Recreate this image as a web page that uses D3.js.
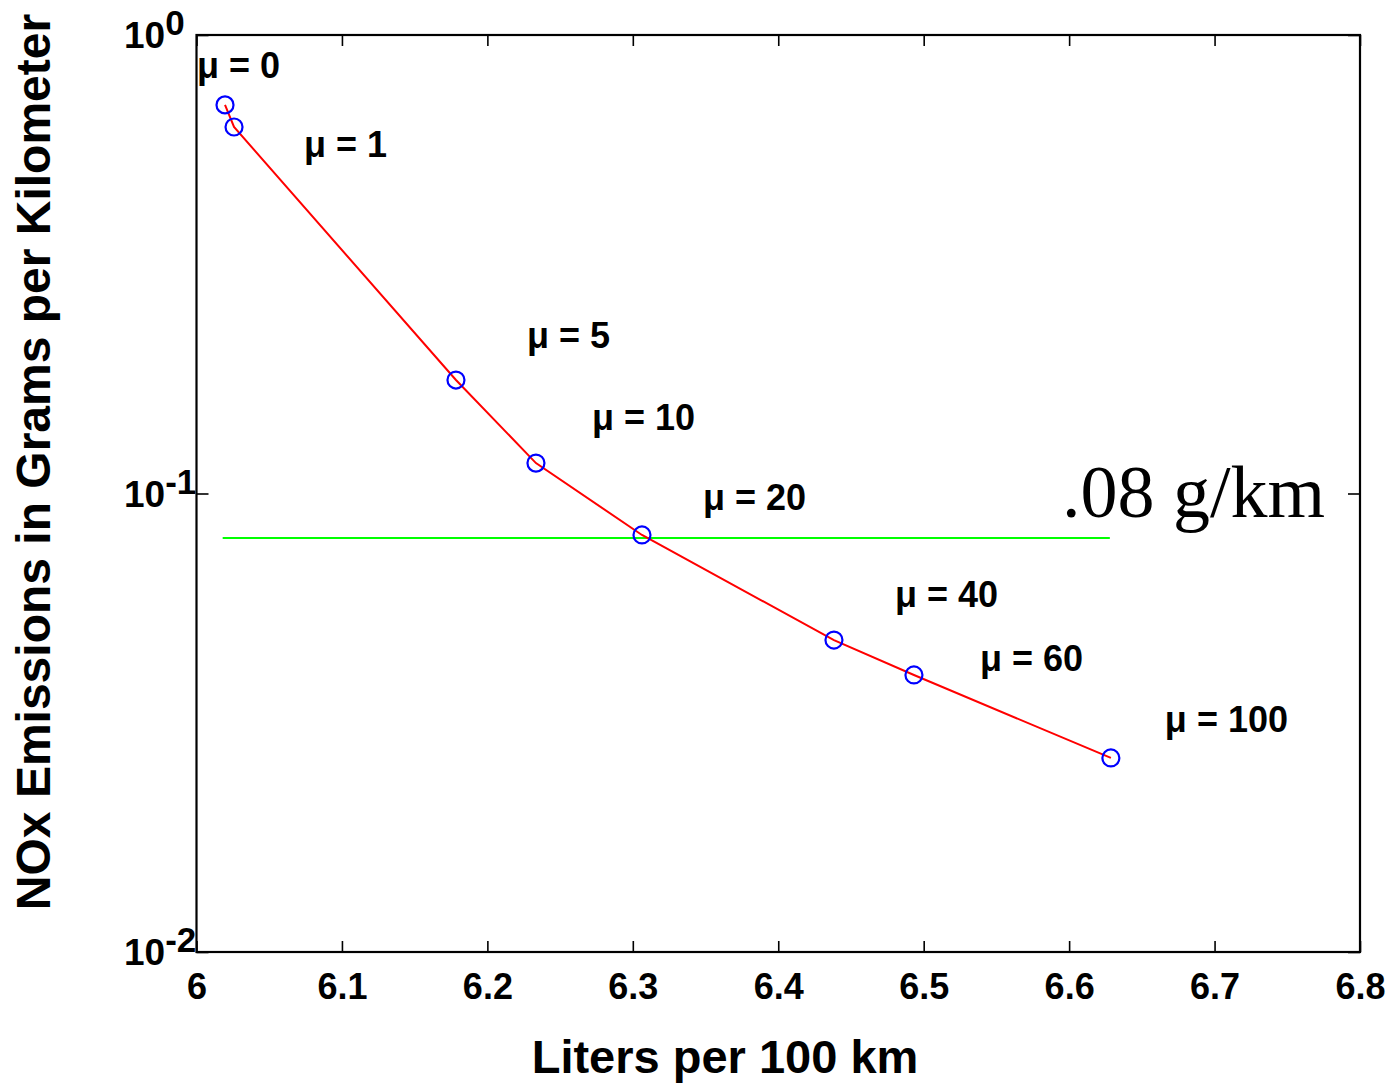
<!DOCTYPE html>
<html>
<head>
<meta charset="utf-8">
<script src="https://cdn.jsdelivr.net/npm/d3@7"></script>
<style>
  html, body { margin: 0; padding: 0; background: #fff; }
  svg { display: block; }
</style>
</head>
<body>
<svg id="chart" width="1391" height="1085"></svg>
<script>
// ---- data ----
const muValues = [0, 1, 5, 10, 20, 40, 60, 100];
const litersPer100km = [6.0196, 6.0258, 6.1784, 6.2334, 6.3063, 6.4383, 6.4933, 6.6287];
const noxGramsPerKm = [0.704, 0.630, 0.1768, 0.1165, 0.0812, 0.0479, 0.0402, 0.0265];
const xTicks = [6, 6.1, 6.2, 6.3, 6.4, 6.5, 6.6, 6.7, 6.8];
const xTickLabels = ["6", "6.1", "6.2", "6.3", "6.4", "6.5", "6.6", "6.7", "6.8"];
const yTicks = [1, 0.1, 0.01];
const yTickExponents = ["0", "-1", "-2"];
const standardValue = 0.08;
const standardRange = [6.018, 6.628];
const standardLabel = ".08 g/km";
const xTitle = "Liters per 100 km";
const yTitle = "NOx Emissions in Grams per Kilometer";

// ---- layout (not data) ----
const plot = { left: 196.5, right: 1360, top: 35, bottom: 952 };
const labelOffsets = [[-28, -27], [70, 30], [71, -32], [56, -33], [61, -25], [61, -33], [66, -4], [54, -26]];
const sans = "'Liberation Sans', Arial, Helvetica, sans-serif";
const serif = "'Liberation Serif', 'Times New Roman', serif";

const svg = d3.select("#chart");

const x = d3.scaleLinear().domain([6, 6.8]).range([plot.left, plot.right]);
const y = d3.scaleLog().domain([0.01, 1]).range([plot.bottom, plot.top]);

// axes (ticks inward)
const gx = svg.append("g").attr("transform", `translate(0,${plot.bottom})`)
  .call(d3.axisBottom(x).tickValues(xTicks).tickSize(-11).tickSizeOuter(0).tickPadding(21)
    .tickFormat((d, i) => xTickLabels[i]));
gx.select(".domain").remove();
gx.selectAll("line").attr("stroke", "#000").attr("stroke-width", 1.6);
gx.selectAll("text").attr("font-family", sans).attr("font-weight", "bold")
  .attr("font-size", 36).attr("fill", "#000");

const gxt = svg.append("g").attr("transform", `translate(0,${plot.top})`)
  .call(d3.axisTop(x).tickValues(xTicks).tickSize(-11).tickSizeOuter(0).tickFormat(""));
gxt.select(".domain").remove();
gxt.selectAll("line").attr("stroke", "#000").attr("stroke-width", 1.6);

const gy = svg.append("g").attr("transform", `translate(${plot.left},0)`)
  .call(d3.axisLeft(y).tickValues(yTicks).tickSize(-12).tickSizeOuter(0).tickFormat(""));
gy.select(".domain").remove();
gy.selectAll("line").attr("stroke", "#000").attr("stroke-width", 1.6);

const gyr = svg.append("g").attr("transform", `translate(${plot.right},0)`)
  .call(d3.axisRight(y).tickValues(yTicks).tickSize(-12).tickSizeOuter(0).tickFormat(""));
gyr.select(".domain").remove();
gyr.selectAll("line").attr("stroke", "#000").attr("stroke-width", 1.6);

// y tick labels 10^n
yTicks.forEach((v, i) => {
  const t = svg.append("text")
    .attr("x", 124).attr("y", y(v) + 13)
    .attr("font-family", sans).attr("font-weight", "bold").attr("font-size", 37)
    .attr("fill", "#000");
  t.append("tspan").text("10");
  t.append("tspan").attr("dy", -13).attr("font-size", 35).text(yTickExponents[i]);
});

// frame
svg.append("rect")
  .attr("x", plot.left).attr("y", plot.top)
  .attr("width", plot.right - plot.left).attr("height", plot.bottom - plot.top)
  .attr("fill", "none").attr("stroke", "#000").attr("stroke-width", 2.2);

// standard line
svg.append("line")
  .attr("x1", x(standardRange[0])).attr("x2", x(standardRange[1]))
  .attr("y1", y(standardValue)).attr("y2", y(standardValue))
  .attr("stroke", "#00ff00").attr("stroke-width", 2);

svg.append("text")
  .attr("x", 1325).attr("y", y(standardValue) - 21)
  .attr("text-anchor", "end")
  .attr("font-family", serif).attr("font-size", 74).attr("fill", "#000")
  .text(standardLabel);

// curve
const pts = litersPer100km.map((lx, i) => [lx, noxGramsPerKm[i]]);
svg.append("path")
  .datum(pts)
  .attr("d", d3.line().x(d => x(d[0])).y(d => y(d[1])))
  .attr("fill", "none").attr("stroke", "#ff0000").attr("stroke-width", 2);

svg.selectAll("circle.pt").data(pts).join("circle")
  .attr("class", "pt")
  .attr("cx", d => x(d[0])).attr("cy", d => y(d[1])).attr("r", 8.5)
  .attr("fill", "none").attr("stroke", "#0000ff").attr("stroke-width", 2.2);

// mu labels
svg.selectAll("text.mu").data(pts).join("text")
  .attr("class", "mu")
  .attr("x", (d, i) => x(d[0]) + labelOffsets[i][0])
  .attr("y", (d, i) => y(d[1]) + labelOffsets[i][1])
  .attr("font-family", sans).attr("font-weight", "bold").attr("font-size", 36)
  .attr("fill", "#000")
  .text((d, i) => `μ = ${muValues[i]}`);

// axis titles
svg.append("text")
  .attr("x", 725).attr("y", 1073).attr("text-anchor", "middle")
  .attr("font-family", sans).attr("font-weight", "bold").attr("font-size", 47)
  .attr("fill", "#000").text(xTitle);

svg.append("text")
  .attr("transform", "translate(50,462) rotate(-90)")
  .attr("text-anchor", "middle")
  .attr("font-family", sans).attr("font-weight", "bold").attr("font-size", 48)
  .attr("fill", "#000").text(yTitle);
</script>
</body>
</html>
